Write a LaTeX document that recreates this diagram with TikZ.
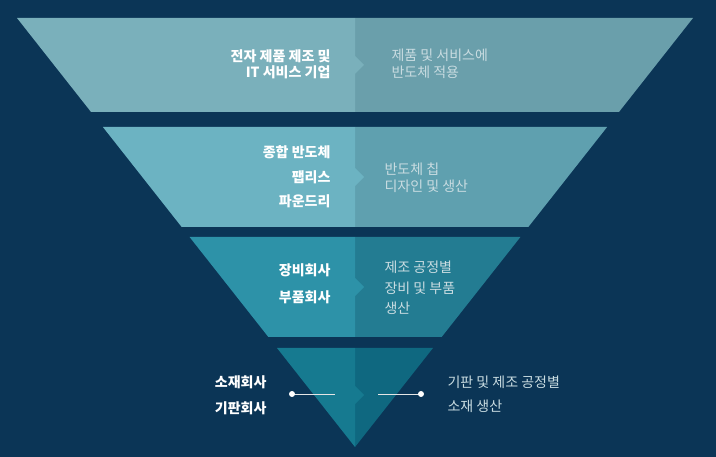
\documentclass[tikz,border=0pt]{standalone}
\usepackage{fontspec}
\setmainfont{Noto Sans CJK KR}
\begin{document}
\begin{tikzpicture}[x=1pt,y=-1pt,
  lt/.style={font=\fontsize{14}{16}\selectfont\bfseries, text=white, align=right, anchor=east},
  rt/.style={font=\fontsize{14}{17}\selectfont, text=rtc, align=left, anchor=west},
  dotline/.style={draw=white!80!gray, line width=0.8pt}]
\definecolor{bg}{HTML}{0B3556}
\definecolor{rtc}{HTML}{C9DCE1}
\definecolor{aL}{HTML}{7AB0BB}\definecolor{aR}{HTML}{6A9FAB}
\definecolor{bL}{HTML}{6CB3C2}\definecolor{bR}{HTML}{5FA0AF}
\definecolor{cL}{HTML}{2D92A8}\definecolor{cR}{HTML}{237C92}
\definecolor{dL}{HTML}{167A90}\definecolor{dR}{HTML}{0F6880}
\fill[bg] (0,0) rectangle (716,457);
% funnel edge: x = 17 + 0.788*(y-18) left, right symmetric about 355
\def\layer#1#2#3#4#5{%
  \pgfmathsetmacro\lt{17+0.788*(#1-18)}\pgfmathsetmacro\lb{17+0.788*(#2-18)}%
  \pgfmathsetmacro\rt{710-\lt}\pgfmathsetmacro\rb{710-\lb}%
  \pgfmathsetmacro\cy{(#1+#2)/2}%
  \fill[#4] (355,#1) -- (\rt,#1) -- (\rb,#2) -- (355,#2) -- cycle;
  \fill[#3] (\lt,#1) -- (355,#1) -- (355,\cy-9) -- (364,\cy) -- (355,\cy+9) -- (355,#2) -- (\lb,#2) -- cycle;}
\layer{18}{112}{aL}{aR}{}
\layer{127}{227}{bL}{bR}{}
\layer{237}{337}{cL}{cR}{}
\fill[dR] (355,348) -- (433,348) -- (355,447) -- cycle;
\fill[dL] (277,348) -- (355,348) -- (355,386) -- (364,395) -- (355,404) -- (355,447) -- cycle;
\node[lt] (t1) at (334,64) {전자 제품 제조 및\\IT 서비스 기업};
\node[rt] (r1) at (388,64) {제품 및 서비스에\\반도체 적용};
\node[lt,align=right,font=\fontsize{14}{24.5}\selectfont\bfseries] (t2) at (334,177) {종합 반도체\\팹리스\\파운드리};
\node[rt] (r2) at (381,178) {반도체 칩\\디자인 및 생산};
\node[lt,font=\fontsize{14}{27}\selectfont\bfseries] (t3) at (334,284) {장비회사\\부품회사};
\node[rt,font=\fontsize{14}{20.5}\selectfont] (r3) at (381,288) {제조 공정별\\장비 및 부품\\생산};
\node[lt,font=\fontsize{14}{26}\selectfont\bfseries] (t4) at (270,395) {소재회사\\기판회사};
\node[rt,font=\fontsize{14}{24}\selectfont] (r4) at (444,394) {기판 및 제조 공정별\\소재 생산};
\coordinate (d1) at (292,394); \coordinate (e1) at (335,394);
\coordinate (d2) at (421,394); \coordinate (e2) at (378,394);
\draw[dotline] (d1) -- (e1); \draw[dotline] (e2) -- (d2);
\fill[white] (d1) circle (3); \fill[white] (d2) circle (3);
\end{tikzpicture}
\end{document}
